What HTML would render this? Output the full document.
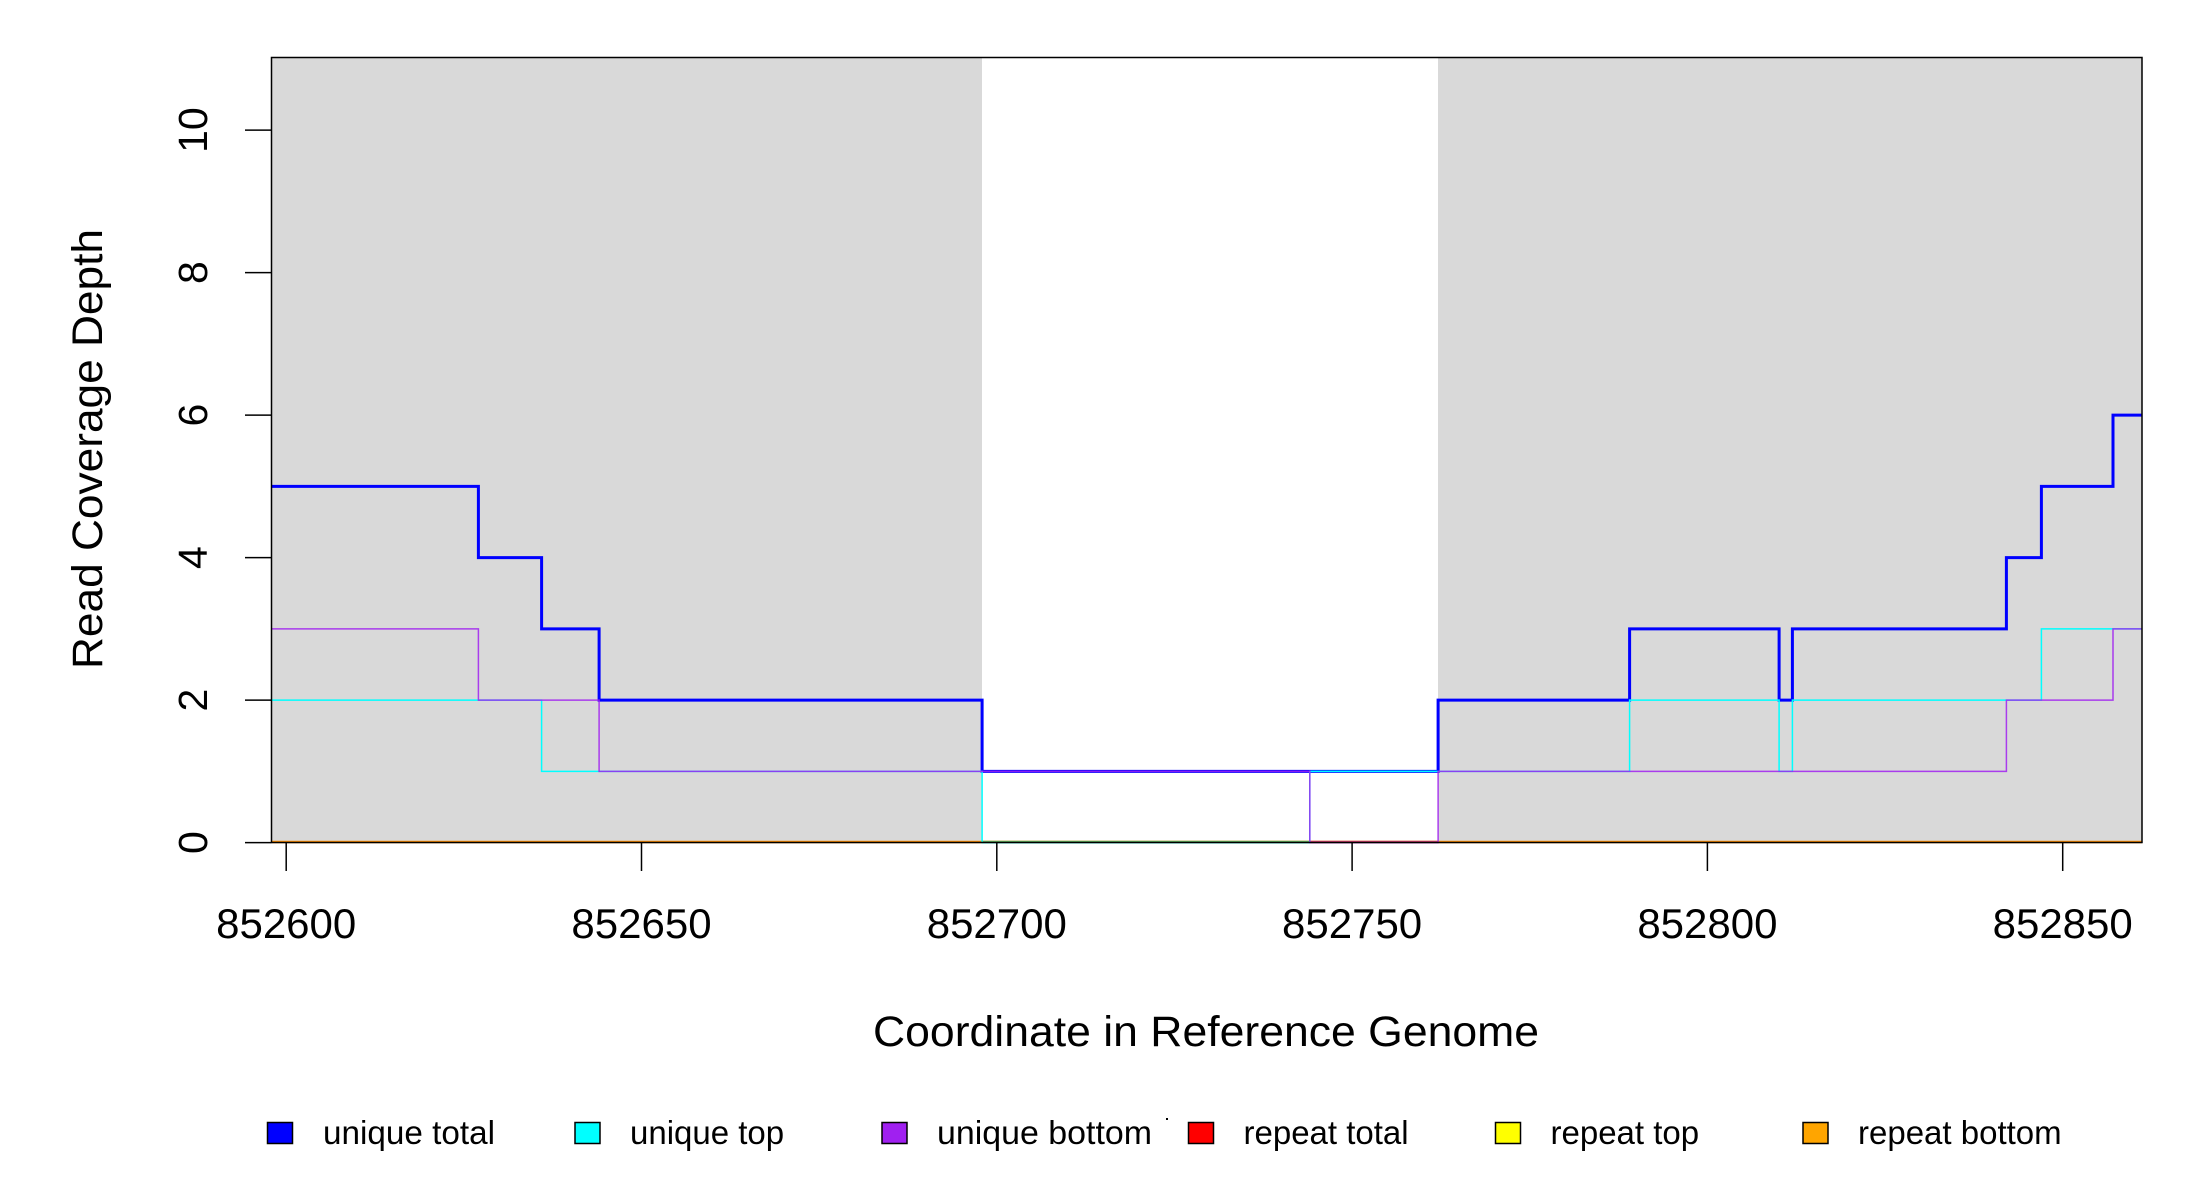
<!DOCTYPE html>
<html><head><meta charset="utf-8"><style>html,body{margin:0;padding:0;background:#fff}svg{display:block}</style></head>
<body>
<svg width="2200" height="1200" viewBox="0 0 2200 1200" xmlns="http://www.w3.org/2000/svg" font-family="Liberation Sans, Arial, sans-serif">
<rect width="2200" height="1200" fill="#fff"/>
<rect x="272" y="58" width="710" height="785" fill="#d9d9d9"/>
<rect x="1438" y="58" width="704" height="785" fill="#d9d9d9"/>
<line x1="272" y1="842" x2="2142" y2="842" stroke="#ff8c00" stroke-width="2.5"/>
<line x1="982" y1="842" x2="1309.8" y2="842" stroke="#6aa84f" stroke-width="2.5"/>
<line x1="1309.8" y1="842" x2="1438" y2="842" stroke="#d04060" stroke-width="2.5"/>
<polyline fill="none" stroke="#0000ff" stroke-width="3" points="272,486.4 478.4,486.4 478.4,557.6 541.6,557.6 541.6,628.9 599.1,628.9 599.1,700.1 982.1,700.1 982.1,771.4 1438.1,771.4 1438.1,700.1 1629.6,700.1 1629.6,628.9 1779.1,628.9 1779.1,700.1 1792.4,700.1 1792.4,628.9 2006.4,628.9 2006.4,557.6 2041.4,557.6 2041.4,486.4 2113,486.4 2113,415.1 2142,415.1"/>
<polyline fill="none" stroke="#00ffff" stroke-width="1.5" points="272,700.1 541.6,700.1 541.6,771.4 982.1,771.4 982.1,842.6 1309.8,842.6 1309.8,771.4 1629.6,771.4 1629.6,700.1 1779.1,700.1 1779.1,771.4 1792.4,771.4 1792.4,700.1 2041.4,700.1 2041.4,628.9 2142,628.9"/>
<polyline fill="none" stroke="#a020f0" stroke-width="1.5" stroke-opacity="0.85" points="272,628.9 478.4,628.9 478.4,700.1 599.1,700.1 599.1,771.4 1309.8,771.4 1309.8,842.6 1438.1,842.6 1438.1,771.4 2006.4,771.4 2006.4,700.1 2113,700.1 2113,628.9 2142,628.9"/>
<rect x="271.5" y="57.5" width="1870.5" height="785" fill="none" stroke="#000" stroke-width="1.5"/>
<g stroke="#000" stroke-width="1.5">
<line x1="245" y1="842.6" x2="271.5" y2="842.6"/>
<line x1="245" y1="700.1" x2="271.5" y2="700.1"/>
<line x1="245" y1="557.6" x2="271.5" y2="557.6"/>
<line x1="245" y1="415.1" x2="271.5" y2="415.1"/>
<line x1="245" y1="272.6" x2="271.5" y2="272.6"/>
<line x1="245" y1="130.1" x2="271.5" y2="130.1"/>
</g>
<g font-size="41" text-anchor="middle" fill="#000">
<text transform="translate(207,842.6) rotate(-90)">0</text>
<text transform="translate(207,700.1) rotate(-90)">2</text>
<text transform="translate(207,557.6) rotate(-90)">4</text>
<text transform="translate(207,415.1) rotate(-90)">6</text>
<text transform="translate(207,272.6) rotate(-90)">8</text>
<text transform="translate(207,130.1) rotate(-90)">10</text>
</g>
<text transform="translate(102,449) rotate(-90)" font-size="43" text-anchor="middle" textLength="440" lengthAdjust="spacingAndGlyphs">Read Coverage Depth</text>
<g stroke="#000" stroke-width="1.5">
<line x1="286.2" y1="843" x2="286.2" y2="871"/>
<line x1="641.5" y1="843" x2="641.5" y2="871"/>
<line x1="996.8" y1="843" x2="996.8" y2="871"/>
<line x1="1352.1" y1="843" x2="1352.1" y2="871"/>
<line x1="1707.4" y1="843" x2="1707.4" y2="871"/>
<line x1="2062.7" y1="843" x2="2062.7" y2="871"/>
</g>
<g font-size="42" text-anchor="middle" fill="#000">
<text x="286.2" y="938">852600</text>
<text x="641.5" y="938">852650</text>
<text x="996.8" y="938">852700</text>
<text x="1352.1" y="938">852750</text>
<text x="1707.4" y="938">852800</text>
<text x="2062.7" y="938">852850</text>
</g>
<text x="1206" y="1046" font-size="43" text-anchor="middle" textLength="666" lengthAdjust="spacingAndGlyphs">Coordinate in Reference Genome</text>
<g stroke="#000" stroke-width="1.5">
<rect x="267.5" y="1122.5" width="25" height="21" fill="#0000ff"/>
<rect x="575" y="1122.5" width="25" height="21" fill="#00ffff"/>
<rect x="882" y="1122.5" width="25" height="21" fill="#a020f0"/>
<rect x="1188.5" y="1122.5" width="25" height="21" fill="#ff0000"/>
<rect x="1495.5" y="1122.5" width="25" height="21" fill="#ffff00"/>
<rect x="1803" y="1122.5" width="25" height="21" fill="#ffa500"/>
</g>
<rect x="1166" y="1118" width="2" height="2" fill="#000"/>
<g font-size="33" fill="#000">
<text x="323" y="1144" textLength="172" lengthAdjust="spacingAndGlyphs">unique total</text>
<text x="630" y="1144">unique top</text>
<text x="937" y="1144" textLength="215" lengthAdjust="spacingAndGlyphs">unique bottom</text>
<text x="1243.5" y="1144">repeat total</text>
<text x="1550.5" y="1144">repeat top</text>
<text x="1858" y="1144">repeat bottom</text>
</g>
</svg>
</body></html>
